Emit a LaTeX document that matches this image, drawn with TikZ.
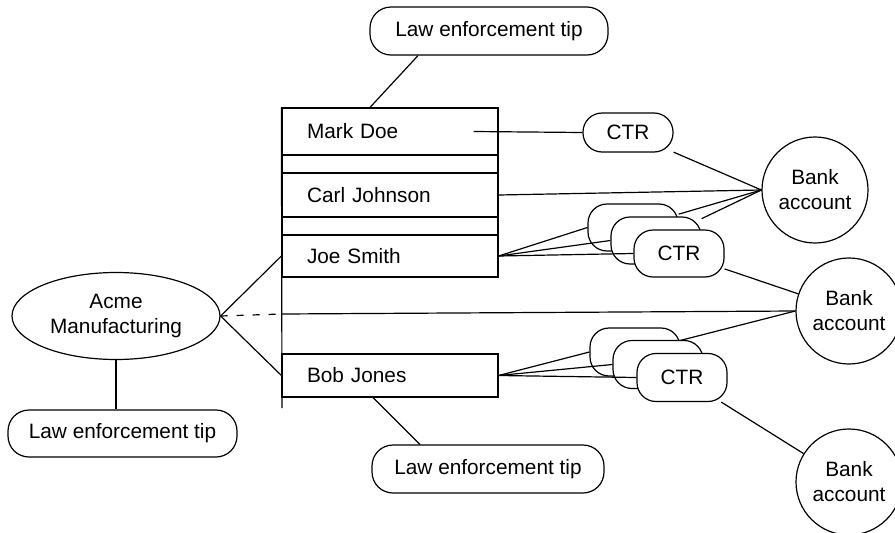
\documentclass[tikz,border=0pt]{standalone}
\usepackage{fontspec}
\setmainfont{Liberation Sans}
\usetikzlibrary{shapes.geometric}

\begin{document}
\begin{tikzpicture}
        [x=1pt, y=-1pt, line width=1.2pt, every node/.style={draw, fill=white, inner sep=0, font=\fontsize{20.8}{25}\selectfont},
         tipbox/.style={rounded corners=21pt, minimum width=232pt, minimum height=48pt},
         ctrbox/.style={rounded corners=19pt, minimum width=90pt, minimum height=47pt},
         cell/.style={text width=166pt, inner xsep=25pt, align=left},
         bank/.style={circle, minimum size=106pt, align=center}]

        \useasboundingbox (0, 0) rectangle (895, 533);

        \node[tipbox, minimum width=238pt] (tiptop) at (489, 31) {Law enforcement tip};
        \node[tipbox] (tipbot) at (488, 469) {Law enforcement tip};
        \node[tipbox, minimum width=229pt, minimum height=47pt] (tipleft) at (122.5, 433.5) {Law enforcement tip};

        \node[ellipse, minimum width=208pt, minimum height=87pt, align=center] (acme) at (116, 316) {Acme\\Manufacturing};

        \node[cell, minimum height=47pt] (mark) at (390, 131.5) {Mark Doe};
        \node[cell, minimum height=18pt] (gap1) at (390, 164) {};
        \node[cell, minimum height=44pt] (carl) at (390, 195) {Carl Johnson};
        \node[cell, minimum height=18pt] (gap2) at (390, 226) {};
        \node[cell, minimum height=42pt] (joe) at (390, 256) {Joe Smith};
        \node[cell, minimum height=43pt] (bob) at (390, 375.5) {Bob Jones};
        \coordinate (colend) at (282, 408);
        \coordinate (cross) at (282, 314);

        \node[ctrbox, minimum height=39pt] (ctr1) at (628, 132.5) {CTR};
        \node[ctrbox] (ctr2a) at (633, 227.5) {};
        \node[ctrbox] (ctr2b) at (656, 240.5) {};
        \node[ctrbox] (ctr2) at (679, 253.5) {CTR};
        \node[ctrbox, minimum height=48pt] (ctr3a) at (635, 352) {};
        \node[ctrbox, minimum height=48pt] (ctr3b) at (658, 364.5) {};
        \node[ctrbox, minimum height=48pt] (ctr3) at (682, 377.5) {CTR};

        \node[bank] (bank1) at (815, 190) {Bank\\account};
        \node[bank] (bank2) at (849, 311) {Bank\\account};
        \node[bank] (bank3) at (849, 482) {Bank\\account};

        \draw (mark.north west) -- (colend);
        \draw ([xshift=-71pt]tiptop.south) -- ([xshift=-20pt]mark.north);
        \draw ([xshift=-17pt]bob.south) -- ([xshift=-68pt]tipbot.north);
        \draw (acme.south) -- (acme.south |- tipleft.north);
        \draw (acme.east) -- (joe.west);
        \draw (acme.east) -- (bob.west);
        \draw[dash pattern=on 7pt off 9pt] (acme.east) -- (cross);
        \draw (cross) -- (bank2.west);

        \draw ([xshift=-25pt]mark.east) -- (ctr1.west);
        \draw (ctr1) -- (bank1.west);
        \draw (carl.east) -- (bank1.west);
        \draw (joe.east) -- (ctr2a.west);
        \draw (joe.east) -- (ctr2b.west);
        \draw (joe.east) -- (ctr2.west);
        \draw (ctr2a) -- (bank1.west);
        \draw (ctr2b) -- (bank1.west);
        \draw (ctr2) -- (bank2);
        \draw (bob.east) -- (ctr3a.west);
        \draw (bob.east) -- (ctr3b.west);
        \draw (bob.east) -- (ctr3.west);
        \draw (ctr3a) -- (bank2.west);
        \draw (ctr3) -- (bank3);

      \end{tikzpicture}
\end{document}
